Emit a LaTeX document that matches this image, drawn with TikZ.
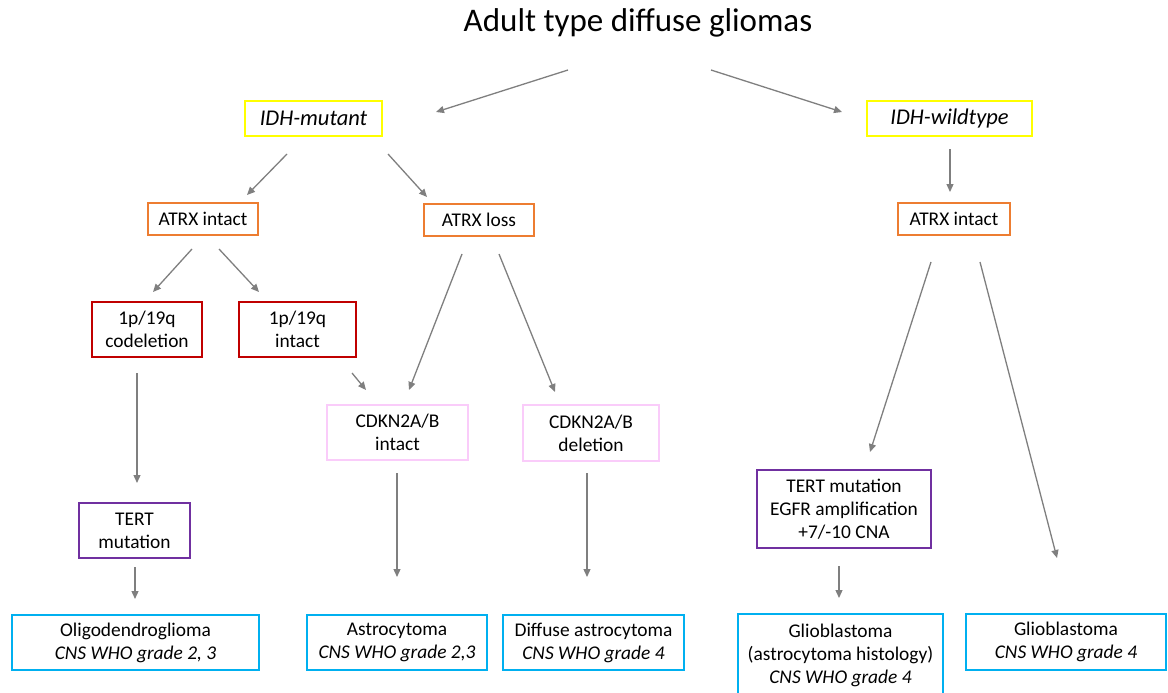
\documentclass[tikz,border=0pt]{standalone}
\usepackage{fontspec}
\setmainfont{Carlito}
\usetikzlibrary{arrows.meta}
\definecolor{idhyellow}{HTML}{FFFF00}
\definecolor{atrxorange}{HTML}{ED7D31}
\definecolor{codelred}{HTML}{C00000}
\definecolor{cdknpink}{HTML}{FACCFA}
\definecolor{tertpurple}{HTML}{7030A0}
\definecolor{diagblue}{HTML}{00B0F0}
\definecolor{conngray}{HTML}{7F7F7F}

\begin{document}
\begin{tikzpicture}[x=1pt, y=-1pt, font=\fontsize{19.4}{23}\selectfont]
\tikzstyle{box}=[rectangle, draw, line width=2pt, inner sep=0pt, align=center]
\tikzstyle{idh_box}=[box, draw=idhyellow, font=\fontsize{22.5}{26}\selectfont\itshape]
\tikzstyle{atrx_box}=[box, draw=atrxorange]
\tikzstyle{codel_box}=[box, draw=codelred]
\tikzstyle{cdkn_box}=[box, draw=cdknpink]
\tikzstyle{tert_box}=[box, draw=tertpurple]
\tikzstyle{diag_box}=[box, draw=diagblue]
\tikzstyle{conn}=[draw=conngray, line width=1.3pt, -{Triangle[length=8pt,width=7pt]}]
%
\useasboundingbox (0,0) rectangle (1168,693);
\clip (0,0) rectangle (1168,693);

\node [font=\fontsize{33}{40}\selectfont] (title) at (638,23) {Adult type diffuse gliomas};

\node [idh_box, minimum width=137pt, minimum height=35pt] (idhmut) at (313.5,118.5) {IDH-mutant};
\node [idh_box, minimum width=165pt, minimum height=35pt] (idhwt) at (949.5,118.5) {IDH-wildtype};

\node [atrx_box, minimum width=110pt, minimum height=32pt] (atrxint) at (203,219) {ATRX intact};
\node [atrx_box, minimum width=110pt, minimum height=32pt] (atrxloss) at (479,220) {ATRX loss};
\node [atrx_box, minimum width=112pt, minimum height=32pt] (atrxwt) at (954,219) {ATRX intact};

\node [codel_box, minimum width=110pt, minimum height=55pt] (codel) at (147,329.5) {1p/19q\\codeletion};
\node [codel_box, minimum width=117pt, minimum height=55pt] (noncodel) at (297.5,329.5) {1p/19q\\intact};

\node [cdkn_box, minimum width=141pt, minimum height=55pt] (cdknint) at (397.5,432.5) {CDKN2A/B\\intact};
\node [cdkn_box, minimum width=136pt, minimum height=56pt] (cdkndel) at (591,433) {CDKN2A/B\\deletion};

\node [tert_box, minimum width=111pt, minimum height=55pt] (tertmut) at (134.5,530.5) {TERT\\mutation};
\node [tert_box, minimum width=174pt, minimum height=78pt] (tertegfr) at (844,509) {TERT mutation\\EGFR amplification\\+7/-10 CNA};

\node [diag_box, minimum width=247pt, minimum height=55pt] (oligo) at (135.5,642.5) {Oligodendroglioma\\\textit{CNS WHO grade 2, 3}};
\node [diag_box, minimum width=180pt, minimum height=55pt] (astro) at (397,642.5) {Astrocytoma\\\textit{CNS WHO grade 2,3}};
\node [diag_box, minimum width=181pt, minimum height=55pt] (diffastro) at (593.5,642.5) {Diffuse astrocytoma\\\textit{CNS WHO grade 4}};
\node [diag_box, minimum width=205pt, minimum height=82pt] (gbmastro) at (840.5,655) {Glioblastoma\\(astrocytoma histology)\\\textit{CNS WHO grade 4}};
\node [diag_box, minimum width=200pt, minimum height=56pt] (gbm) at (1066,642) {Glioblastoma\\\textit{CNS WHO grade 4}};

% connector ends (the arrows stand free of the boxes)
\coordinate (title_l) at (568,70);   \coordinate (idhmut_in) at (436,112);
\coordinate (title_r) at (711,70);   \coordinate (idhwt_in) at (842,112);
\coordinate (idhmut_l) at (287,154); \coordinate (atrxint_in) at (247,195);
\coordinate (idhmut_r) at (388,154); \coordinate (atrxloss_in) at (427,197);
\coordinate (idhwt_b) at (950,149);  \coordinate (atrxwt_in) at (950,192);
\coordinate (atrxint_l) at (192,249); \coordinate (codel_in) at (153,292);
\coordinate (atrxint_r) at (219,249); \coordinate (noncodel_in) at (259,292);
\coordinate (atrxloss_l) at (462,254); \coordinate (cdknint_in) at (409,390);
\coordinate (atrxloss_r) at (499,254); \coordinate (cdkndel_in) at (555,392);
\coordinate (noncodel_b) at (352,373); \coordinate (cdknint_in2) at (366,390);
\coordinate (codel_b) at (137,373);   \coordinate (tertmut_in) at (137,483);
\coordinate (tertmut_b) at (135,567); \coordinate (oligo_in) at (135,599);
\coordinate (cdknint_b) at (397,473); \coordinate (astro_in) at (397,577);
\coordinate (cdkndel_b) at (587,473); \coordinate (diffastro_in) at (587,577);
\coordinate (atrxwt_l) at (931,262);  \coordinate (tertegfr_in) at (870,452);
\coordinate (atrxwt_r) at (980,262);  \coordinate (gbm_in) at (1057,558);
\coordinate (tertegfr_b) at (839,566); \coordinate (gbmastro_in) at (839,598);

\draw [conn] (title_l) -- (idhmut_in);
\draw [conn] (title_r) -- (idhwt_in);
\draw [conn] (idhmut_l) -- (atrxint_in);
\draw [conn] (idhmut_r) -- (atrxloss_in);
\draw [conn] (idhwt_b) -- (atrxwt_in);
\draw [conn] (atrxint_l) -- (codel_in);
\draw [conn] (atrxint_r) -- (noncodel_in);
\draw [conn] (atrxloss_l) -- (cdknint_in);
\draw [conn] (atrxloss_r) -- (cdkndel_in);
\draw [conn] (noncodel_b) -- (cdknint_in2);
\draw [conn] (codel_b) -- (tertmut_in);
\draw [conn] (tertmut_b) -- (oligo_in);
\draw [conn] (cdknint_b) -- (astro_in);
\draw [conn] (cdkndel_b) -- (diffastro_in);
\draw [conn] (atrxwt_l) -- (tertegfr_in);
\draw [conn] (atrxwt_r) -- (gbm_in);
\draw [conn] (tertegfr_b) -- (gbmastro_in);
%
\end{tikzpicture}
\end{document}
